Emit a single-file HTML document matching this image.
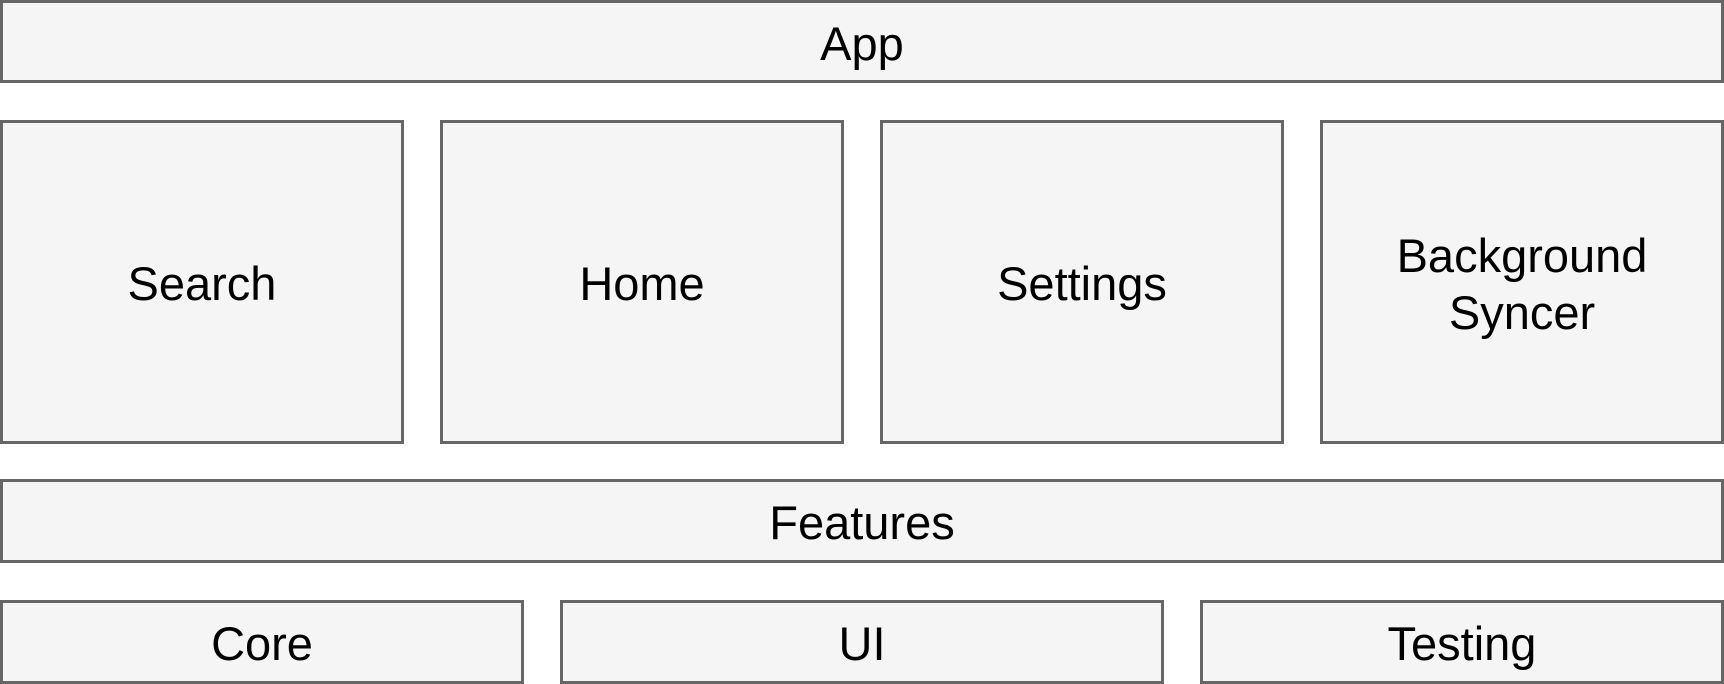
<!DOCTYPE html>
<html><head><meta charset="utf-8"><style>
html,body{margin:0;padding:0;background:#fff;width:1724px;height:684px;overflow:hidden}
.b{position:absolute;box-sizing:border-box;border:3px solid #666;background:#f5f5f5;display:flex;align-items:center;justify-content:center;text-align:center;font-family:"Liberation Sans",Arial,sans-serif;font-size:47px;line-height:57px;color:#000;padding-top:3px}
</style></head><body>
<div class="b" style="left:0;top:0;width:1724px;height:83px">App</div>
<div class="b" style="left:0;top:120px;width:404px;height:324px">Search</div>
<div class="b" style="left:440px;top:120px;width:404px;height:324px">Home</div>
<div class="b" style="left:880px;top:120px;width:404px;height:324px">Settings</div>
<div class="b" style="left:1320px;top:120px;width:404px;height:324px">Background<br>Syncer</div>
<div class="b" style="left:0;top:479px;width:1724px;height:84px">Features</div>
<div class="b" style="left:0;top:600px;width:524px;height:84px">Core</div>
<div class="b" style="left:560px;top:600px;width:604px;height:84px">UI</div>
<div class="b" style="left:1200px;top:600px;width:524px;height:84px">Testing</div>
</body></html>
